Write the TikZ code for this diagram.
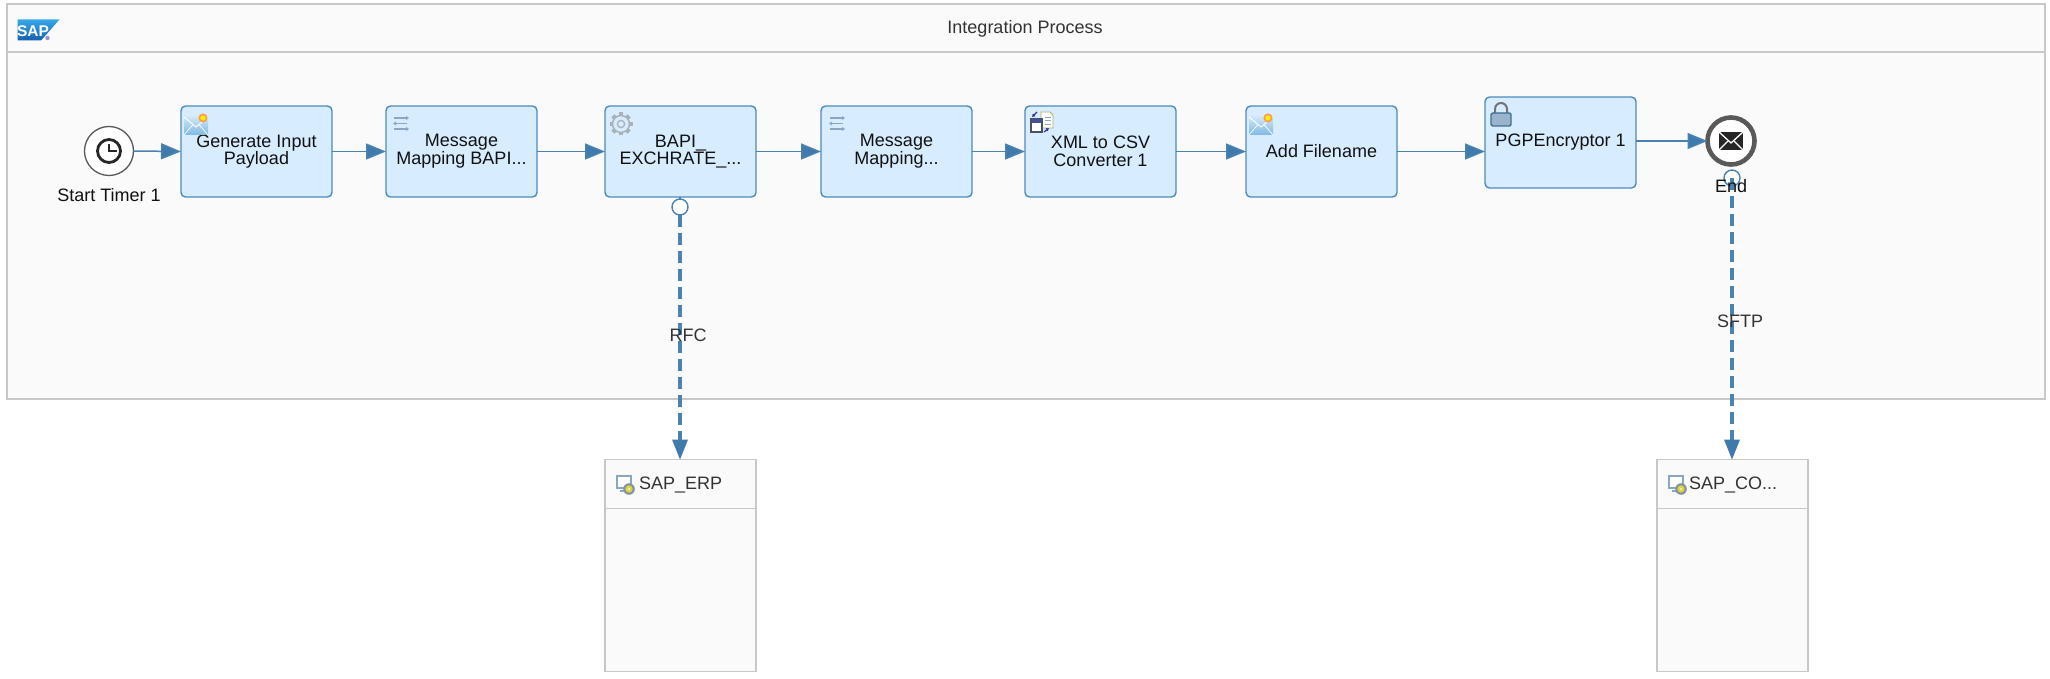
\documentclass[tikz,border=0pt]{standalone}
\usepackage{fontspec}
\setmainfont{Liberation Sans}
\usetikzlibrary{arrows.meta,shapes.geometric}
\definecolor{flow}{HTML}{4A82B2}
\definecolor{arrowc}{HTML}{4079AC}
\definecolor{boxfill}{HTML}{D8ECFF}
\definecolor{boxline}{HTML}{4F8ABA}
\definecolor{poolline}{HTML}{C8C8C8}
\definecolor{poolfill}{HTML}{FAFAFA}
\definecolor{txt}{HTML}{111111}
\definecolor{lbl}{HTML}{333333}
\definecolor{gearc}{HTML}{A9B2B9}
\definecolor{mapc}{HTML}{8AA6C0}
\definecolor{mailtop}{HTML}{CFE6F7}
\definecolor{mailbot}{HTML}{7FB8E2}
\definecolor{saptop}{HTML}{36A8E8}
\definecolor{sapbot}{HTML}{1560B0}
\newcommand{\mailicon}[2]{%
  \begin{scope}[shift={(#1,#2)}]
    \fill[top color=mailtop,bottom color=mailbot] (0,3) rectangle (24,21);
    \draw[white,line width=.9pt] (0,3) -- (12,13) -- (24,3);
    \draw[white,line width=.7pt] (0,21) -- (9,10.5) (24,21) -- (15,10.5);
    \fill[orange!90!red!70] (19,4) circle (4.6);
    \fill[yellow] (19,4) circle (2.6);
  \end{scope}}
\newcommand{\mapicon}[2]{%
  \begin{scope}[shift={(#1,#2)},mapc,line width=1.4pt]
    \draw (0,2) -- (13,2);
    \draw (0,7.5) -- (13,7.5);
    \draw (0,13) -- (13,13);
    \fill (12,0) -- (15,2) -- (12,4) -- cycle;
    \fill (2,5.5) -- (-1,7.5) -- (2,9.5) -- cycle;
    \fill (12,11) -- (15,13) -- (12,15) -- cycle;
  \end{scope}}
\begin{document}
\begin{tikzpicture}[x=1pt,y=-1pt,
  every node/.style={inner sep=0pt,outer sep=0pt},
  task/.style={draw=boxline,fill=boxfill,line width=1.4pt,rounded corners=4.5pt,
    minimum width=151pt,minimum height=91pt,align=center,text=txt,
    font=\fontsize{18}{17.8}\selectfont},
  pool/.style={draw=poolline,fill=poolfill,line width=1.6pt},
  seqflow/.style={draw=flow,line width=1.5pt,-{Triangle[length=20pt,width=16pt,fill=arrowc]}},
  msgflow/.style={draw=flow,line width=3.3pt,dash pattern=on 12pt off 6pt,
    -{Triangle[length=20pt,width=16pt,fill=arrowc,line width=0pt]}},
  evlabel/.style={text=txt,font=\fontsize{18}{20}\selectfont},
  chlabel/.style={text=lbl,font=\fontsize{18}{20}\selectfont},
  port/.style={circle,draw=flow,fill=white,line width=1.4pt,minimum size=16pt},
]
\useasboundingbox (0,0) rectangle (2050,679);
\fill[white] (0,0) rectangle (2050,679);

% pool
\node[pool,anchor=north west,minimum width=2038pt,minimum height=395pt] (proc) at (7,4) {};
\coordinate (hdl) at (7,52);
\coordinate (hdr) at (2045,52);
\draw[poolline,line width=1.4pt] (hdl) -- (hdr);
\node[text=lbl,font=\fontsize{18}{20}\selectfont] (title) at (1025,29) {Integration Process};

% SAP logo
\shade[top color=saptop,bottom color=sapbot]
    (17.5,19.5) -- (59.5,19.5) -- (41,40.5) -- (17.5,40.5) -- cycle;
\node[text=white,font=\fontsize{15.5}{16}\bfseries\selectfont] (sap) at (33,31.5) {SAP};
\fill[gray!60!blue!60] (47.5,38) circle (2.2);

% receivers
\node[pool,anchor=north west,minimum width=151pt,minimum height=212pt] (erp) at (605,459.5) {};
\draw[poolline,line width=1.4pt] (605,508.5) -- (756,508.5);
\node[pool,anchor=north west,minimum width=151pt,minimum height=212pt] (co) at (1657,459.5) {};
\draw[poolline,line width=1.4pt] (1657,508.5) -- (1808,508.5);
\node[chlabel,anchor=west] (erpt) at (639,485) {SAP\_ERP};
\node[chlabel,anchor=west] (cot) at (1689,485) {SAP\_CO...};

% tasks
\node[task,anchor=north west] (gen) at (181,106) {Generate Input\\Payload};
\node[task,anchor=north west] (mm1) at (386,106) {Message\\Mapping BAPI...};
\node[task,anchor=north west] (bapi) at (605,106) {BAPI\_\\EXCHRATE\_...};
\node[task,anchor=north west] (mm2) at (821,106) {Message\\Mapping...};
\node[task,anchor=north west] (xml) at (1025,106) {XML to CSV\\Converter 1};
\node[task,anchor=north west,text depth=1.5pt] (add) at (1246,106) {Add Filename};
\node[task,anchor=north west] (pgp) at (1485,97) {\raisebox{-1pt}{PGPEncryptor 1}};

% events
\node[circle,draw=black!65,fill=white,line width=1.3pt,minimum size=49pt] (start) at (109,151) {};
\node[evlabel] (startl) at (109,195) {Start Timer 1};
\node[circle,draw=black!65,fill=white,line width=4.6pt,minimum size=47pt] (end) at (1731,141) {};

% sequence flows
\draw[seqflow] (start.east) -- (gen.west);
\draw[seqflow] (gen.east) -- (mm1.west);
\draw[seqflow] (mm1.east) -- (bapi.west);
\draw[seqflow] (bapi.east) -- (mm2.west);
\draw[seqflow] (mm2.east) -- (xml.west);
\draw[seqflow] (xml.east) -- (add.west);
\draw[seqflow] (add.east) -- (add.east -| pgp.west);
\draw[seqflow] (pgp.east |- end.west) -- (end.west);

% message flows
\node[port] (pa) at (680,207) {};
\node[port] (pb) at (1732,178) {};
\draw[msgflow] (pa.south) -- (pa.south |- erp.north);
\draw[msgflow] (pb.center) -- (pb.center |- co.north);
\draw[flow,line width=1.6pt] (bapi.south -| pa.north) -- (pa.north);
\node[evlabel] (endl) at (1731,186) {End};
\node[chlabel] (rfc) at (688,335) {RFC};
\node[chlabel] (sftp) at (1740,321) {SFTP};

% task icons
\mailicon{184}{114}
\mailicon{1249}{114}
\mapicon{394}{116}
\mapicon{830}{116}

% gear icon
\begin{scope}[shift={(621,124)}]
  \foreach \a in {0,45,...,315}{\fill[gearc,rotate=\a] (-2.2,-11.5) rectangle (2.2,-7);}
  \draw[gearc,fill=boxfill,line width=1.5pt] (0,0) circle (8.5);
  \draw[gearc,line width=1.3pt] (0,0) circle (3.6);
\end{scope}

% xml icon
\begin{scope}[shift={(1030,112)}]
  \draw[fill=white,draw=black!20!yellow!50!gray,line width=.9pt] (11,0) -- (20,0) -- (23,3) -- (23,16) -- (11,16) -- cycle;
  \draw[mapc,line width=.9pt] (15,5) -- (21,5) (15,8.5) -- (21,8.5) (15,12) -- (21,12);
  \draw[fill=white,draw=black!50!mapc,line width=1.3pt] (1,7) rectangle (12,20);
  \fill[mapc!70!blue!70!black] (1,7) rectangle (12,11);
  \draw[blue!50!black!80,line width=1.2pt,-{Latex[length=3pt,width=4pt]}] (7,0) -- (2,5);
  \draw[blue!50!black!80,line width=1.2pt,-{Latex[length=3pt,width=4pt]}] (14,20) -- (19,16);
\end{scope}

% lock icon
\begin{scope}[shift={(1491,103)}]
  \draw[black!55,line width=2pt] (4,10) -- (4,6) arc[start angle=180,end angle=360,radius=6] -- (16,10);
  \draw[fill=mapc!80!boxfill,draw=boxline!80!black,line width=1.4pt,rounded corners=1.5pt] (0,10) rectangle (20,23);
\end{scope}

% envelope in end event
\begin{scope}[shift={(end.center)}]
  \fill[black!85] (-12,-9) rectangle (12,9);
  \draw[white,line width=1.3pt] (-12,-9) -- (0,2) -- (12,-9);
  \draw[white,line width=1.1pt] (-12,9) -- (-3,0) (12,9) -- (3,0);
\end{scope}

% clock in start event
\begin{scope}[shift={(start.center)}]
  \draw[black!85,line width=2.8pt] (0,0) circle (11.5);
  \draw[black!85,line width=2pt] (0,-7) -- (0,0) -- (8,0);
\end{scope}

% endpoint icons
\foreach \ox in {616,1668}{
\begin{scope}[shift={(\ox,476)}]
  \draw[fill=white,draw=mapc,line width=2pt] (1,0) rectangle (15,12);
  \fill[mapc] (4,14) rectangle (12,15.5);
  \fill[gray!50!mapc] (13,13) circle (5.8);
  \fill[yellow!70!gray] (13,13) circle (3.6);
  \fill[white] (13,13) circle (1);
\end{scope}}
\end{tikzpicture}
\end{document}
